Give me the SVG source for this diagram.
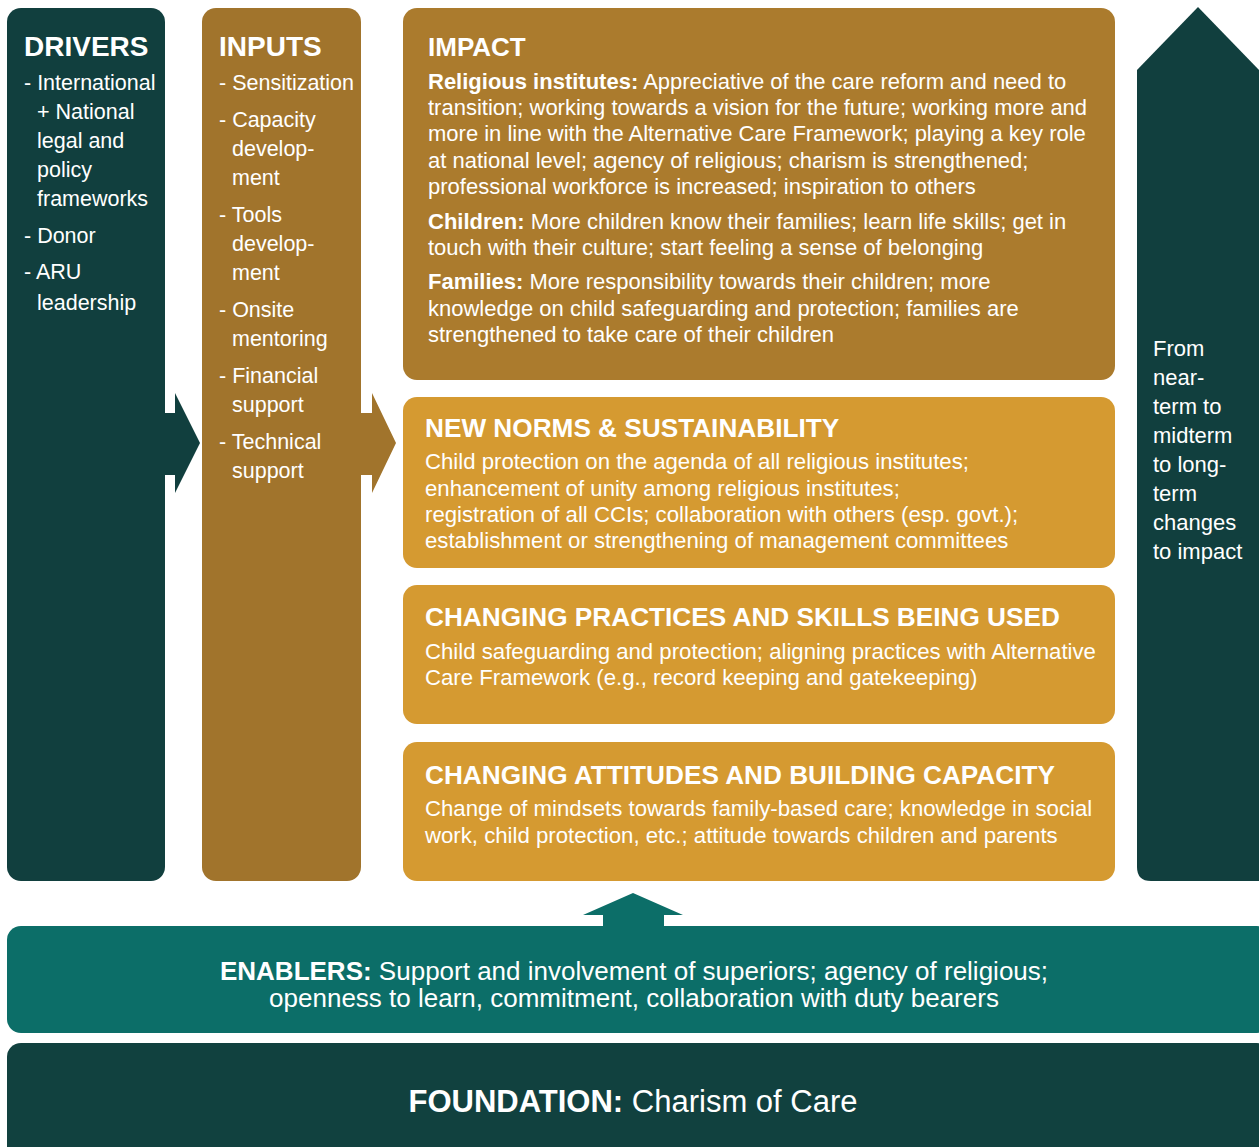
<svg xmlns="http://www.w3.org/2000/svg" width="1259" height="1147" viewBox="0 0 1259 1147">
<style>
text{font-family:"Liberation Sans",Arial,sans-serif;fill:#fff}
.h{font-weight:bold;font-size:28px}
.hi{font-weight:bold;font-size:26px}
.hb{font-weight:bold;font-size:26.2px}
.t{font-size:21.5px}
.ti{font-size:22px}
.to{font-size:22.2px}
.b{font-weight:bold}
.dark{fill:#113f3e}
.brown{fill:#a1742c}
.impact{fill:#ab7b2d}
.orange{fill:#d59a31}
</style>
<g id="connectors">
<polygon class="dark" points="160,413 175,413 175,393 200,443 175,493 175,475 160,475"/>
<polygon class="brown" points="356,413 372,413 372,393 396,443 372,493 372,475 356,475"/>
<polygon fill="#0c6e68" points="603,930 603,915 583,915 633,893 683,915 664,915 664,930"/>
</g>
<g id="drivers">
<rect class="dark" x="7" y="8" width="158" height="873" rx="14"/>
<text class="h" x="24" y="56">DRIVERS</text>
<text class="t" x="24" y="90">- International</text>
<text class="t" x="37" y="119">+ National</text>
<text class="t" x="37" y="148">legal and</text>
<text class="t" x="37" y="177">policy</text>
<text class="t" x="37" y="206">frameworks</text>
<text class="t" x="24" y="243">- Donor</text>
<text class="t" x="24" y="279">- ARU</text>
<text class="t" x="37" y="310">leadership</text>
</g>
<g id="inputs">
<rect class="brown" x="202" y="8" width="159" height="873" rx="14"/>
<text class="h" x="219" y="56">INPUTS</text>
<text class="t" x="219" y="90">- Sensitization</text>
<text class="t" x="219" y="127">- Capacity</text>
<text class="t" x="232" y="156">develop-</text>
<text class="t" x="232" y="185">ment</text>
<text class="t" x="219" y="222">- Tools</text>
<text class="t" x="232" y="251">develop-</text>
<text class="t" x="232" y="280">ment</text>
<text class="t" x="219" y="317">- Onsite</text>
<text class="t" x="232" y="346">mentoring</text>
<text class="t" x="219" y="383">- Financial</text>
<text class="t" x="232" y="412">support</text>
<text class="t" x="219" y="449">- Technical</text>
<text class="t" x="232" y="478">support</text>
</g>
<g id="impact">
<rect class="impact" x="403" y="8" width="712" height="372" rx="14"/>
<text class="hi" x="428" y="56">IMPACT</text>
<text class="ti" x="428" y="89"><tspan class="b">Religious institutes:</tspan> Appreciative of the care reform and need to</text>
<text class="ti" x="428" y="115">transition; working towards a vision for the future; working more and</text>
<text class="ti" x="428" y="141">more in line with the Alternative Care Framework; playing a key role</text>
<text class="ti" x="428" y="168">at national level; agency of religious; charism is strengthened;</text>
<text class="ti" x="428" y="194">professional workforce is increased; inspiration to others</text>
<text class="ti" x="428" y="229"><tspan class="b">Children:</tspan> More children know their families; learn life skills; get in</text>
<text class="ti" x="428" y="255">touch with their culture; start feeling a sense of belonging</text>
<text class="ti" x="428" y="289"><tspan class="b">Families:</tspan> More responsibility towards their children; more</text>
<text class="ti" x="428" y="316">knowledge on child safeguarding and protection; families are</text>
<text class="ti" x="428" y="342">strengthened to take care of their children</text>
</g>
<g id="norms">
<rect class="orange" x="403" y="397" width="712" height="171" rx="14"/>
<text class="hb" x="425" y="437">NEW NORMS &amp; SUSTAINABILITY</text>
<text class="to" x="425" y="469">Child protection on the agenda of all religious institutes;</text>
<text class="to" x="425" y="496">enhancement of unity among religious institutes;</text>
<text class="to" x="425" y="522">registration of all CCIs; collaboration with others (esp. govt.);</text>
<text class="to" x="425" y="548">establishment or strengthening of management committees</text>
</g>
<g id="practices">
<rect class="orange" x="403" y="585" width="712" height="139" rx="14"/>
<text class="hb" x="425" y="626">CHANGING PRACTICES AND SKILLS BEING USED</text>
<text class="to" x="425" y="659">Child safeguarding and protection; aligning practices with Alternative</text>
<text class="to" x="425" y="685">Care Framework (e.g., record keeping and gatekeeping)</text>
</g>
<g id="attitudes">
<rect class="orange" x="403" y="742" width="712" height="139" rx="14"/>
<text class="hb" x="425" y="784">CHANGING ATTITUDES AND BUILDING CAPACITY</text>
<text class="to" x="425" y="816">Change of mindsets towards family-based care; knowledge in social</text>
<text class="to" x="425" y="843">work, child protection, etc.; attitude towards children and parents</text>
</g>
<g id="timeline">
<path class="dark" d="M1198,7 L1259,70 L1259,881 L1151,881 Q1137,881 1137,867 L1137,70 Z"/>
<text class="ti" x="1153" y="356">From</text>
<text class="ti" x="1153" y="385">near-</text>
<text class="ti" x="1153" y="414">term to</text>
<text class="ti" x="1153" y="443">midterm</text>
<text class="ti" x="1153" y="472">to long-</text>
<text class="ti" x="1153" y="501">term</text>
<text class="ti" x="1153" y="530">changes</text>
<text class="ti" x="1153" y="559">to impact</text>
</g>
<g id="enablers">
<rect fill="#0c6e68" x="7" y="926" width="1264" height="107" rx="14"/>
<text x="634" y="980" text-anchor="middle" style="font-size:26px"><tspan class="b">ENABLERS:</tspan> Support and involvement of superiors; agency of religious;</text>
<text x="634" y="1007" text-anchor="middle" style="font-size:26px">openness to learn, commitment, collaboration with duty bearers</text>
</g>
<g id="foundation">
<rect fill="#11413f" x="7" y="1043" width="1264" height="118" rx="14"/>
<text x="633" y="1112" text-anchor="middle" style="font-size:31px"><tspan class="b">FOUNDATION:</tspan> Charism of Care</text>
</g>
</svg>
